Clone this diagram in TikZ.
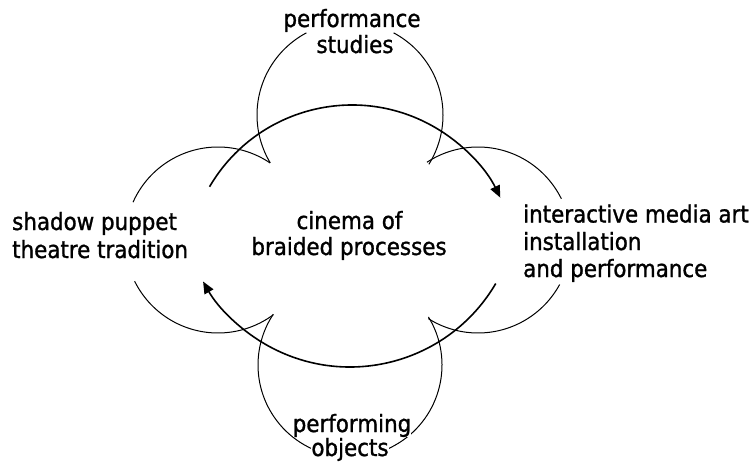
\documentclass[tikz,border=0pt]{standalone}
\usepackage{fontspec}
\setmainfont{DejaVu Sans Condensed}[BoldFont=DejaVu Sans Condensed, BoldFeatures={FakeBold=1.2}]
\usetikzlibrary{arrows.meta}
\begin{document}
\begin{tikzpicture}[x=1pt,y=1pt,
  lbl/.style={font=\fontsize{23.8}{26}\selectfont\bfseries, inner sep=0pt, anchor=base},
  lblw/.style={lbl, anchor=base west},
  lobe/.style={line width=1pt},
  mainloop/.style={line width=1.6pt, -{Triangle[length=12pt,width=10pt]}}]
\useasboundingbox (0,0) rectangle (755,467);
% centres
\coordinate (cT) at (350,352);
\coordinate (cR) at (478,227);
\coordinate (cB) at (350,102);
\coordinate (cL) at (218,227);
\coordinate (cM1) at (352,197);
\coordinate (cM2) at (350,269);
% lobes
\draw[lobe] ([shift={(211:93)}]cT) arc[start angle=211, end angle=118, radius=93];
\draw[lobe] ([shift={(62:93)}]cT) arc[start angle=62, end angle=-32, radius=93];
\draw[lobe] ([shift={(123.3:93)}]cR) arc[start angle=123.3, end angle=26.3, radius=93];
\draw[lobe] ([shift={(-28.6:93)}]cR) arc[start angle=-28.6, end angle=-122.3, radius=93];
\draw[lobe] ([shift={(31.5:92)}]cB) arc[start angle=31.5, end angle=-213.5, radius=92];
\draw[lobe] ([shift={(56:93)}]cL) arc[start angle=56, end angle=156, radius=93];
\draw[lobe] ([shift={(206.3:93)}]cL) arc[start angle=206.3, end angle=306.6, radius=93];
% main loop
\draw[mainloop] ([shift={(149.7:165)}]cM1) arc[start angle=149.7, end angle=26, radius=165];
\draw[mainloop] ([shift={(-30.4:169)}]cM2) arc[start angle=-30.4, end angle=-150.4, radius=169];
% labels
\node[lbl] (ps1) at (352,440) {performance};
\node[lbl] (ps2) at (355,414) {studies};
\node[lblw] (sp1) at (12,237) {shadow puppet};
\node[lblw] (sp2) at (12,209) {theatre tradition};
\node[lbl] (cb1) at (349.5,238) {cinema of};
\node[lbl] (cb2) at (349,212) {braided processes};
\node[lblw] (im1) at (523,244.5) {interactive media art};
\node[lblw] (im2) at (523,217) {installation};
\node[lblw] (im3) at (523,190) {and performance};
\node[lbl, fill=white] (po1) at (352,35) {performing};
\node[lbl, fill=white] (po2) at (350,11) {objects};
\end{tikzpicture}
\end{document}
